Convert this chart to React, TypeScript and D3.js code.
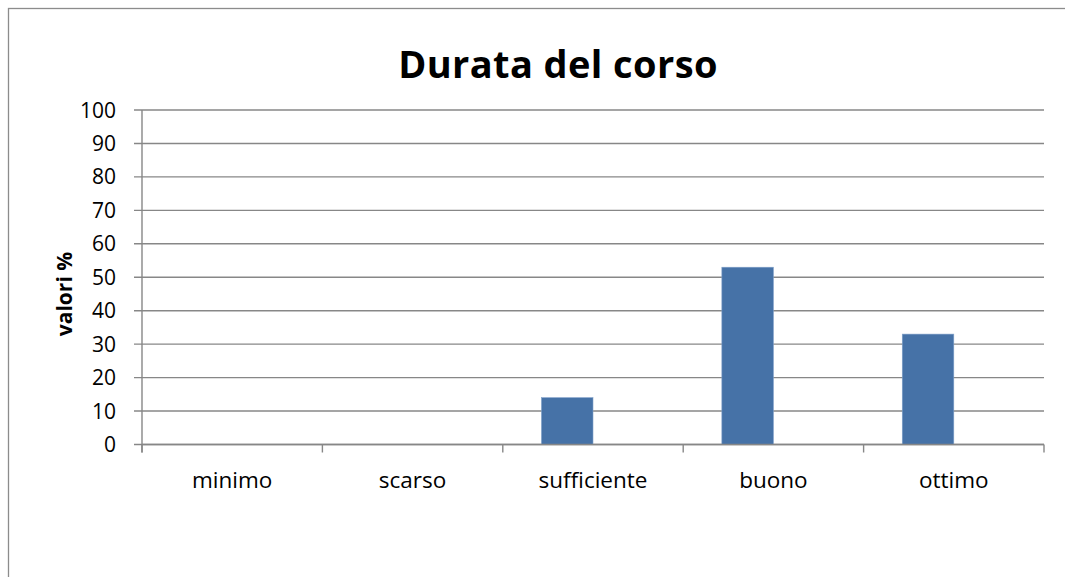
import React from "react";
import * as d3 from "d3";

const categories = ["minimo", "scarso", "sufficiente", "buono", "ottimo"];
const seriesNames = ["Serie1", "Serie2"];
const serie1 = [0, 0, 14, 53, 33];
const serie2 = [0, 0, 0, 0, 0];
const yTicks = [0, 10, 20, 30, 40, 50, 60, 70, 80, 90, 100];
const title = "Durata del corso";
const yLabel = "valori %";

const W = 1065;
const H = 577;
const left = 142;
const right = 1044;
const top = 110;
const bottom = 444.5;
const FONT = "'Open Sans', 'Noto Sans', sans-serif";

export default function App() {
  const x = d3.scaleBand<string>().domain(categories).range([left, right]).padding(0);
  const x1 = d3
    .scaleBand<string>()
    .domain(seriesNames)
    .range([0, x.bandwidth()])
    .paddingInner(0)
    .paddingOuter(0.75);
  const y = d3.scaleLinear().domain([0, 100]).range([bottom, top]);
  const series = [serie1, serie2];
  const boundaries = categories.map((c) => x(c) as number).concat([right]);

  return (
    <svg
      width={W}
      height={H}
      style={{ position: "absolute", left: 0, top: 0, background: "#fff" }}
    >
      <rect x={8.5} y={8.5} width={W + 20} height={H + 20} fill="#fff" stroke="#8c8c8c" strokeWidth={1.3} />
      <text
        x={558}
        y={78}
        textAnchor="middle"
        fontFamily={FONT}
        fontWeight="bold"
        fontSize={38}
        letterSpacing={0.4}
        fill="#000"
      >
        {title}
      </text>
      {yTicks.map((t) => (
        <line key={"g" + t} x1={134} x2={right} y1={y(t)} y2={y(t)} stroke="#878787" strokeWidth={1.4} />
      ))}
      {yTicks.map((t) => (
        <text
          key={"t" + t}
          x={116}
          y={y(t)}
          dy="0.36em"
          textAnchor="end"
          fontFamily={FONT}
          fontSize={21}
          fill="#000"
        >
          {t}
        </text>
      ))}
      {series.map((s, si) =>
        s.map((v, i) =>
          v > 0 ? (
            <rect
              key={si + "-" + i}
              x={(x(categories[i]) as number) + (x1(seriesNames[si]) as number)}
              y={y(v)}
              width={x1.bandwidth()}
              height={y(0) - y(v)}
              fill="#4672a7"
              stroke="#7fa0c8"
              strokeWidth={0.6}
            />
          ) : null
        )
      )}
      <line x1={left} x2={left} y1={top} y2={bottom + 8} stroke="#878787" strokeWidth={1.4} />
      <line x1={left} x2={right} y1={bottom} y2={bottom} stroke="#878787" strokeWidth={1.4} />
      {boundaries.map((b, i) => (
        <line key={"xt" + i} x1={b} x2={b} y1={bottom} y2={bottom + 8} stroke="#878787" strokeWidth={1.4} />
      ))}
      {categories.map((c) => (
        <text
          key={"c" + c}
          x={(x(c) as number) + x.bandwidth() / 2}
          y={487.5}
          textAnchor="middle"
          fontFamily={FONT}
          fontSize={22.5}
          fill="#000"
        >
          {c}
        </text>
      ))}
      <text
        transform="translate(72,294) rotate(-90)"
        textAnchor="middle"
        fontFamily={FONT}
        fontWeight="bold"
        fontSize={21}
        fill="#000"
      >
        {yLabel}
      </text>
    </svg>
  );
}
